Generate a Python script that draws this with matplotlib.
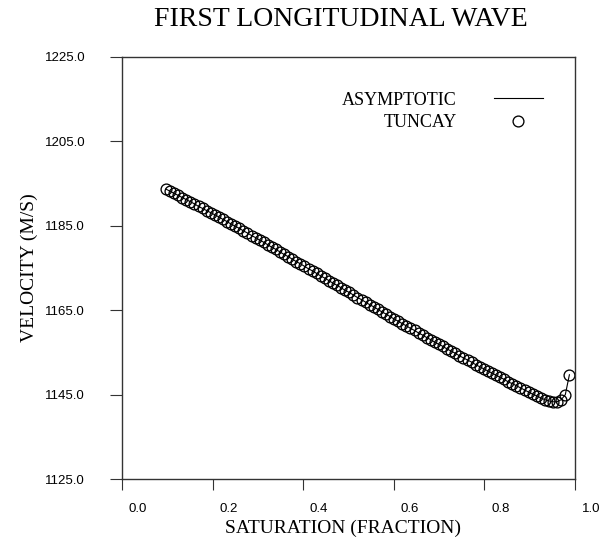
import numpy as np
import matplotlib
matplotlib.use('Agg')
import matplotlib.pyplot as plt
from matplotlib.transforms import ScaledTranslation

# saturation (fraction) and first longitudinal wave velocity (m/s)
saturation = [0.097, 0.106, 0.115, 0.124, 0.133, 0.142, 0.151, 0.160, 0.169, 0.178,
              0.187, 0.196, 0.205, 0.214, 0.223, 0.232, 0.241, 0.250, 0.259, 0.268,
              0.277, 0.286, 0.295, 0.304, 0.313, 0.322, 0.331, 0.340, 0.349, 0.358,
              0.367, 0.376, 0.385, 0.394, 0.403, 0.412, 0.421, 0.430, 0.439, 0.448,
              0.457, 0.466, 0.475, 0.484, 0.493, 0.502, 0.511, 0.520, 0.529, 0.538,
              0.547, 0.556, 0.565, 0.574, 0.583, 0.592, 0.601, 0.610, 0.619, 0.628,
              0.637, 0.646, 0.655, 0.664, 0.673, 0.682, 0.691, 0.700, 0.709, 0.718,
              0.727, 0.736, 0.745, 0.754, 0.763, 0.772, 0.781, 0.790, 0.799, 0.808,
              0.817, 0.826, 0.835, 0.844, 0.853, 0.862, 0.871, 0.880, 0.889, 0.898,
              0.907, 0.916, 0.925, 0.934, 0.943, 0.952, 0.961, 0.970, 0.979, 0.988]
velocity = [1193.7, 1193.2, 1192.7, 1192.2, 1191.7, 1191.2, 1190.7, 1190.2, 1189.6, 1189.1,
            1188.6, 1188.1, 1187.6, 1187.1, 1186.5, 1186.0, 1185.4, 1184.9, 1184.4, 1183.8,
            1183.3, 1182.7, 1182.2, 1181.6, 1181.1, 1180.5, 1179.9, 1179.4, 1178.8, 1178.2,
            1177.7, 1177.1, 1176.5, 1176.0, 1175.4, 1174.8, 1174.3, 1173.7, 1173.1, 1172.6,
            1172.0, 1171.4, 1170.9, 1170.3, 1169.7, 1169.2, 1168.6, 1168.0, 1167.5, 1166.9,
            1166.3, 1165.8, 1165.2, 1164.6, 1164.1, 1163.5, 1162.9, 1162.4, 1161.8, 1161.3,
            1160.7, 1160.2, 1159.6, 1159.1, 1158.5, 1158.0, 1157.4, 1156.9, 1156.4, 1155.8,
            1155.3, 1154.8, 1154.2, 1153.7, 1153.2, 1152.7, 1152.1, 1151.6, 1151.1, 1150.6,
            1150.1, 1149.6, 1149.1, 1148.6, 1148.0, 1147.6, 1147.1, 1146.6, 1146.1, 1145.6,
            1145.1, 1144.7, 1144.2, 1143.8, 1143.5, 1143.3, 1143.3, 1143.8, 1145.0, 1149.7]

x_ticks = [0.0, 0.2, 0.4, 0.6, 0.8, 1.0]
y_ticks = [1125.0, 1145.0, 1165.0, 1185.0, 1205.0, 1225.0]

serif = 'Liberation Serif'
sans = 'Liberation Sans'

fig = plt.figure(figsize=(6.07, 5.47), dpi=100)
ax = fig.add_axes([0.201, 0.1243, 0.746, 0.7715])

ax.plot(saturation, velocity, color='black', linewidth=0.8, label='ASYMPTOTIC')
ax.plot(saturation, velocity, linestyle='none', marker='o', markersize=7.8,
        markerfacecolor='none', markeredgecolor='black', markeredgewidth=0.95,
        label='TUNCAY')

ax.set_xlim(0.0, 1.0)
ax.set_ylim(1125.0, 1225.0)
ax.set_xticks(x_ticks)
ax.set_yticks(y_ticks)
ax.set_xticklabels([f'{v:.1f}' for v in x_ticks], fontfamily=sans, fontsize=9.5)
ax.set_yticklabels([f'{v:.1f}' for v in y_ticks], fontfamily=sans, fontsize=9.5)
ax.tick_params(axis='x', direction='out', length=8, width=0.8, pad=9, color='#333333')
ax.tick_params(axis='y', direction='out', length=8.5, width=0.8, pad=18, color='#333333')

# x tick labels sit to the right of their ticks in the original
shift = ScaledTranslation(16 / 100, 0, fig.dpi_scale_trans)
for lbl in ax.get_xticklabels():
    lbl.set_transform(lbl.get_transform() + shift)

for sp in ax.spines.values():
    sp.set_linewidth(1.0)
    sp.set_color('#333333')

ax.set_xlabel('SATURATION (FRACTION)', fontfamily=serif, fontsize=14, va='center')
ax.xaxis.set_label_coords(0.488, -0.117)
ax.set_ylabel('VELOCITY (M/S)', fontfamily=serif, fontsize=14, va='center')
ax.yaxis.set_label_coords(-0.205, 0.5)
fig.text(0.562, 0.965, 'FIRST LONGITUDINAL WAVE', fontfamily=serif, fontsize=20,
         ha='center', va='center')

ax.legend(loc='upper right', bbox_to_anchor=(0.929, 0.918), frameon=False,
          markerfirst=False, borderpad=0, borderaxespad=0, handlelength=2.7,
          handletextpad=2.05, labelspacing=0.3, prop={'family': serif, 'size': 13})

fig.savefig('out.png', dpi=100)
